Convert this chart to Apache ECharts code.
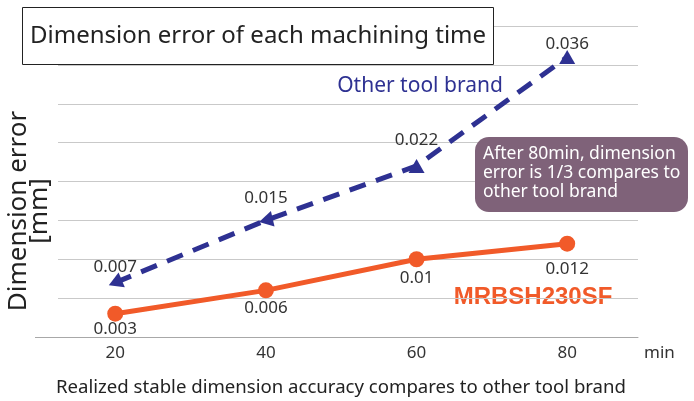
<!DOCTYPE html>
<html>
<head>
<meta charset="utf-8">
<script src="https://cdn.jsdelivr.net/npm/echarts@6/dist/echarts.min.js"></script>
<style>
html,body{margin:0;padding:0;background:#fff;}
#chart{width:694px;height:401px;}
</style>
</head>
<body>
<div id="chart"></div>
<script>
// ---- data ----
const xValues = [20, 40, 60, 80];
const xTickLabels = ['20', '40', '60', '80'];
const otherBrand = [0.007, 0.015, 0.022, 0.036];
const mrbsh = [0.003, 0.006, 0.01, 0.012];
const otherName = 'Other tool brand';
const mrbshName = 'MRBSH230SF';
const titleText = 'Dimension error of each machining time';
const yName = 'Dimension error\n[mm]';
const xUnit = 'min';
const caption = 'Realized stable dimension accuracy compares to other tool brand';
const noteLines = ['After 80min, dimension', 'error is 1/3 compares to', 'other tool brand'];

// ---- styling (not data) ----
const otherArrowRotate = [113, 103, 0, 0];
const otherLabelDist = [-3, 4, 10, -3];
const mrbshLabelDist = [-1, 1, 2, 9];

const BLUE = '#2e3192';
const ORANGE = '#f15a29';
const FONT = '"Noto Sans", "Open Sans", sans-serif';

const chart = echarts.init(document.getElementById('chart'), null, {renderer: 'canvas'});
chart.setOption({
  animation: false,
  backgroundColor: '#fff',
  title: {
    text: titleText,
    left: 22, top: 7,
    padding: [12, 8, 12, 8],
    borderColor: '#222', borderWidth: 1,
    backgroundColor: '#fff',
    textStyle: {fontSize: 24, fontWeight: 'normal', color: '#222', fontFamily: FONT, lineHeight: 34}
  },
  grid: {left: 58, right: 56, top: 26, bottom: 64},
  xAxis: {
    type: 'value', min: 12.4, max: 89.4,
    axisLine: {show: true, lineStyle: {color: '#a8a8a8', width: 1}},
    axisTick: {show: false},
    splitLine: {show: false},
    axisLabel: {customValues: xValues, formatter: v => xTickLabels[xValues.indexOf(v)] || '', fontSize: 17, color: '#333', fontFamily: FONT, margin: 8},
    name: xUnit, nameLocation: 'end', nameGap: 6,
    nameTextStyle: {fontSize: 17, color: '#333', fontFamily: FONT, verticalAlign: 'top', padding: [8, 0, 0, 0]}
  },
  yAxis: {
    type: 'value', min: 0, max: 0.04, interval: 0.005,
    axisLine: {show: false}, axisTick: {show: false}, axisLabel: {show: false},
    splitLine: {show: true, lineStyle: {color: '#c9c9c9', width: 1}}
  },
  series: [
    {
      type: 'line', name: otherName, z: 3,
      data: xValues.map((x, i) => ({value: [x, otherBrand[i]], symbolRotate: otherArrowRotate[i],
        label: {distance: otherLabelDist[i]}})),
      symbol: 'triangle', symbolSize: [16, 14],
      itemStyle: {color: BLUE},
      lineStyle: {color: BLUE, width: 5, type: [17, 11]},
      label: {show: true, position: 'top', fontSize: 17, color: '#333', fontFamily: FONT,
        formatter: p => String(otherBrand[p.dataIndex])}
    },
    {
      type: 'line', name: mrbshName, z: 4,
      data: xValues.map((x, i) => ({value: [x, mrbsh[i]], label: {distance: mrbshLabelDist[i]}})),
      symbol: 'circle', symbolSize: 16,
      itemStyle: {color: ORANGE},
      lineStyle: {color: ORANGE, width: 5},
      label: {show: true, position: 'bottom', fontSize: 17, color: '#333', fontFamily: FONT,
        formatter: p => String(mrbsh[p.dataIndex])}
    }
  ],
  graphic: [
    {type: 'line', shape: {x1: 35, y1: 337.5, x2: 58, y2: 337.5}, style: {stroke: '#a8a8a8', lineWidth: 1}, z: 1},
    {type: 'text', x: 29, y: 211, rotation: Math.PI / 2,
      style: {text: yName, font: '26px ' + FONT, fill: '#222', textAlign: 'center', textVerticalAlign: 'middle', lineHeight: 21}},
    {type: 'text', x: 420, y: 86,
      style: {text: otherName, font: '21px ' + FONT, fill: BLUE, textAlign: 'center', textVerticalAlign: 'middle'}},
    {type: 'text', x: 533, y: 297,
      style: {text: mrbshName, font: 'bold 24px "Liberation Sans", Arial, sans-serif', fill: ORANGE, textAlign: 'center', textVerticalAlign: 'middle'}},
    {type: 'rect', shape: {x: 475, y: 137, width: 213, height: 75, r: 14}, style: {fill: '#7f6279'}, z: 10},
    {type: 'text', x: 483, y: 145, z: 11,
      style: {text: noteLines.join('\n'), font: '17.5px ' + FONT, fill: '#fff', textAlign: 'left', textVerticalAlign: 'top', lineHeight: 19}},
    {type: 'text', x: 341, y: 388,
      style: {text: caption, font: '18.6px ' + FONT, fill: '#222', textAlign: 'center', textVerticalAlign: 'middle'}}
  ]
});
</script>
</body>
</html>
